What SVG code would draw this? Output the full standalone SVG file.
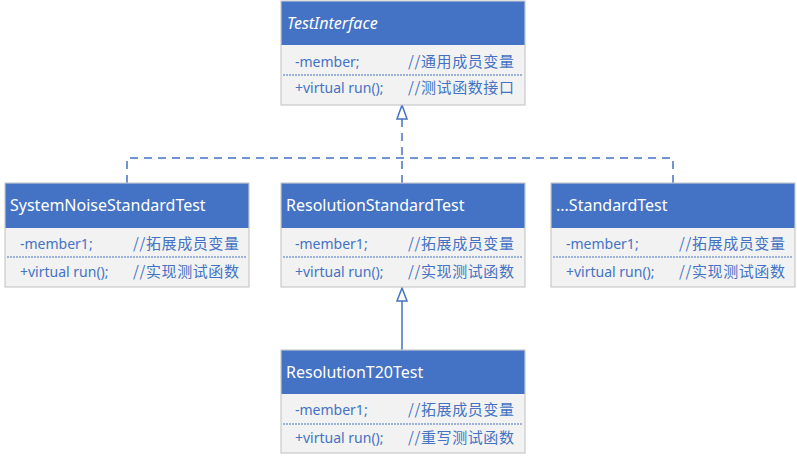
<svg xmlns="http://www.w3.org/2000/svg" width="797" height="456" viewBox="0 0 797 456">
<style>
.box{fill:#F2F2F2;stroke:#BFBFBF;stroke-width:1}
.hdr{fill:#4472C4}
.title{font-family:"Noto Sans","Noto Sans CJK SC",sans-serif;font-size:16px;fill:#FFFFFF}
.mem{font-family:"Noto Sans","Noto Sans CJK SC",sans-serif;font-size:14px;fill:#4472C4}
.cmt{font-family:"Noto Sans CJK SC","Noto Sans",sans-serif;font-size:15px;fill:#4472C4;letter-spacing:0.6px}
.sep{stroke:#4472C4;stroke-width:1;stroke-dasharray:2 1}
.conn{fill:none;stroke:#4472C4;stroke-width:1.5}
</style>
<g id="connectors">
<path class="conn" d="M127,183 V158 H673 V183" stroke-dasharray="8 6"/>
<path class="conn" d="M402,183 V119" stroke-dasharray="8 6"/>
<path d="M402,105 L407,119 L397,119 Z" fill="#FFFFFF" stroke="#4472C4" stroke-width="1.5"/>
<path class="conn" d="M402,350 V301"/>
<path d="M402,288 L407,301 L397,301 Z" fill="#FFFFFF" stroke="#4472C4" stroke-width="1.5"/>
</g>
<g id="TestInterface">
<rect class="box" x="281" y="1" width="244" height="104"/>
<rect class="hdr" x="281.5" y="1.5" width="243" height="43.5"/>
<text class="title" x="287" y="29" font-style="italic">TestInterface</text>
<text class="mem" x="295" y="67">-member;</text>
<line class="sep" x1="283" y1="75" x2="523" y2="75"/>
<text class="mem" x="295" y="93">+virtual run();</text>
<text class="cmt" x="408" y="67">//通用成员变量</text>
<text class="cmt" x="408" y="93">//测试函数接口</text>
</g>
<g id="SystemNoiseStandardTest">
<rect class="box" x="5" y="183" width="244" height="104"/>
<rect class="hdr" x="5.5" y="183.5" width="243" height="44.5"/>
<text class="title" x="10" y="211">SystemNoiseStandardTest</text>
<text class="mem" x="20" y="249">-member1;</text>
<line class="sep" x1="7" y1="257" x2="247" y2="257"/>
<text class="mem" x="20" y="277">+virtual run();</text>
<text class="cmt" x="133" y="249">//拓展成员变量</text>
<text class="cmt" x="133" y="277">//实现测试函数</text>
</g>
<g id="ResolutionStandardTest">
<rect class="box" x="281" y="183" width="244" height="104"/>
<rect class="hdr" x="281.5" y="183.5" width="243" height="44.5"/>
<text class="title" x="286" y="211">ResolutionStandardTest</text>
<text class="mem" x="295" y="249">-member1;</text>
<line class="sep" x1="283" y1="257" x2="523" y2="257"/>
<text class="mem" x="295" y="277">+virtual run();</text>
<text class="cmt" x="408" y="249">//拓展成员变量</text>
<text class="cmt" x="408" y="277">//实现测试函数</text>
</g>
<g id="EtcStandardTest">
<rect class="box" x="551" y="183" width="244" height="104"/>
<rect class="hdr" x="551.5" y="183.5" width="243" height="44.5"/>
<text class="title" x="556" y="211">...StandardTest</text>
<text class="mem" x="566" y="249">-member1;</text>
<line class="sep" x1="553" y1="257" x2="793" y2="257"/>
<text class="mem" x="566" y="277">+virtual run();</text>
<text class="cmt" x="679" y="249">//拓展成员变量</text>
<text class="cmt" x="679" y="277">//实现测试函数</text>
</g>
<g id="ResolutionT20Test">
<rect class="box" x="281" y="350" width="244" height="103"/>
<rect class="hdr" x="281.5" y="350.5" width="243" height="43.5"/>
<text class="title" x="286" y="378">ResolutionT20Test</text>
<text class="mem" x="295" y="415">-member1;</text>
<line class="sep" x1="283" y1="424" x2="523" y2="424"/>
<text class="mem" x="295" y="443">+virtual run();</text>
<text class="cmt" x="408" y="415">//拓展成员变量</text>
<text class="cmt" x="408" y="443">//重写测试函数</text>
</g>
</svg>
